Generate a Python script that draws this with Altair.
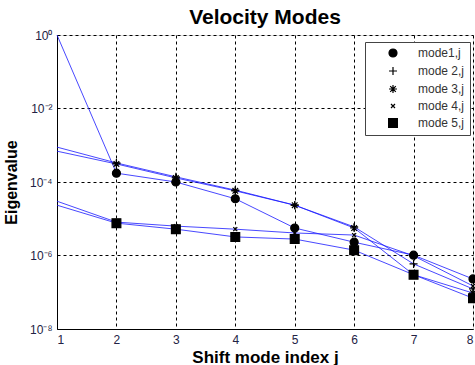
import altair as alt
import pandas as pd

j = [1, 2, 3, 4, 5, 6, 7, 8]
labels = ["mode1,j", "mode 2,j", "mode 3,j", "mode 4,j", "mode 5,j"]
mode1 = [1.0, 1.74e-4, 1.0e-4, 3.5e-5, 5.6e-6, 2.3e-6, 1.02e-6, 2.3e-7]
mode2 = [8.9e-4, 3.3e-4, 1.38e-4, 6.0e-5, 2.34e-5, 6.0e-6, 5.9e-7, 1.23e-7]
mode3 = [6.9e-4, 3.1e-4, 1.29e-4, 5.75e-5, 2.34e-5, 5.6e-6, 3.0e-7, 9.5e-8]
mode4 = [3.0e-5, 8.1e-6, 6.3e-6, 5.2e-6, 4.1e-6, 3.6e-6, 9.8e-7, 1.48e-7]
mode5 = [2.34e-5, 7.6e-6, 5.2e-6, 3.2e-6, 2.8e-6, 1.4e-6, 3.0e-7, 6.9e-8]
y_ticks = [1e-8, 1e-6, 1e-4, 1e-2, 1]

rows = []
for name, vals in zip(labels, [mode1, mode2, mode3, mode4, mode5]):
    for jj, v in zip(j, vals):
        rows.append({"j": jj, "value": v, "mode": name})
df = pd.DataFrame(rows)

FONT = "Liberation Sans"
shapes = [
    "circle",
    "M-1,0L1,0M0,-1L0,1",
    "M-1,0L1,0M0,-1L0,1M-0.7,-0.7L0.7,0.7M-0.7,0.7L0.7,-0.7",
    "M-0.5,-0.5L0.5,0.5M-0.5,0.5L0.5,-0.5",
    "M-1.1,-1.1H1.1V1.1H-1.1Z",
]
fills = ["black", "transparent", "transparent", "transparent", "black"]
strokes = ["black", "black", "black", "black", "black"]

x = alt.X(
    "j:Q",
    scale=alt.Scale(domain=[1, 8], nice=False, zero=False),
    axis=alt.Axis(
        values=j, format="d", title="Shift mode index j", grid=True,
        gridDash=[3, 3], gridColor="black", gridOpacity=1, ticks=False,
        labelFont=FONT, labelFontSize=12, labelColor="#222244", labelPadding=5,
        titleFont=FONT, titleFontSize=17, titleFontWeight="bold", titleColor="black",
        titlePadding=4, domainColor="black",
    ),
)
y = alt.Y(
    "value:Q",
    scale=alt.Scale(type="log", domain=[1e-8, 1], nice=False),
    axis=alt.Axis(
        values=y_ticks, title="Eigenvalue", grid=True,
        gridDash=[3, 3], gridColor="black", gridOpacity=1, ticks=False,
        labelExpr="datum.value > 0.5 ? '10⁰' : datum.value > 0.005 ? '10⁻²' : datum.value > 0.00005 ? '10⁻⁴' : datum.value > 0.0000005 ? '10⁻⁶' : '10⁻⁸'",
        labelFont=FONT, labelFontSize=12, labelColor="#222244", labelPadding=5,
        titleFont=FONT, titleFontSize=16, titleFontWeight="bold", titleColor="black",
        titlePadding=10, domainColor="black",
    ),
)

leg = alt.Legend(
    title=None, orient="none", legendX=308, legendY=7,
    fillColor="white", strokeColor="#444444", padding=5,
    labelFont=FONT, labelFontSize=12, labelColor="#333333",
    symbolOffset=17, labelOffset=19, rowPadding=4,
    symbolStrokeColor="black", symbolStrokeWidth=1.2, symbolSize=64,
)

base = alt.Chart(df)
lines = base.mark_line(color="#1a1aff", strokeWidth=1, opacity=0.8).encode(
    x=x, y=y, detail="mode:N"
)
points = base.transform_filter("datum.j >= 2").mark_point(
    filled=False, strokeWidth=1.2, opacity=1, size=64
).encode(
    x=x, y=y,
    shape=alt.Shape("mode:N", scale=alt.Scale(domain=labels, range=shapes), legend=leg),
    fill=alt.Fill("mode:N", scale=alt.Scale(domain=labels, range=fills), legend=leg),
    stroke=alt.Stroke("mode:N", scale=alt.Scale(domain=labels, range=strokes), legend=leg),
)

chart = (lines + points).properties(
    width=416, height=294,
    autosize=alt.AutoSizeParams(type="none"),
    padding={"left": 57, "top": 35, "right": 2, "bottom": 36},
    title=alt.TitleParams("Velocity Modes", font=FONT, fontSize=21, fontWeight="bold",
                          color="black", anchor="middle", offset=1),
).configure_view(stroke="black", strokeWidth=1).configure(background="white")

chart.save("out.html", embed_options={"renderer": "svg", "actions": False})
